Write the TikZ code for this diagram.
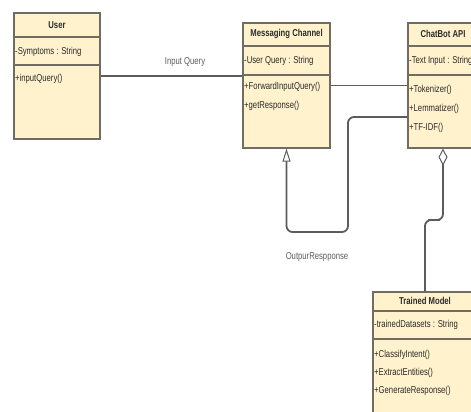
\documentclass[tikz,border=0pt]{standalone}
\usepackage{fontspec}
\setmainfont{Liberation Sans}[FakeStretch=0.77]
\usetikzlibrary{arrows.meta,shadows}
\definecolor{classfill}{HTML}{FFF2CC}
\definecolor{classline}{HTML}{6F6D62}
\definecolor{connline}{HTML}{5C5C5C}
\definecolor{txtcol}{HTML}{2B2B2B}

\begin{document}
\begin{tikzpicture}[x=1pt,y=-1pt,
	classbox/.style={draw=classline, line width=1.2pt, fill=classfill, rectangle, inner sep=0pt,
		drop shadow={shadow xshift=0.8pt, shadow yshift=-1.3pt, fill=black!50, opacity=0.6}},
	sepline/.style={draw=classline, line width=1.2pt},
	headtxt/.style={font=\fontsize{10}{11}\selectfont\bfseries, text=txtcol, inner sep=0.5pt},
	membtxt/.style={font=\fontsize{10}{11}\selectfont, text=txtcol, anchor=west, inner sep=0.5pt},
	conn/.style={draw=connline, line width=1.8pt},
	conntxt/.style={font=\fontsize{10}{11}\selectfont, text=connline, inner sep=0.5pt}]
		\useasboundingbox (0,0) rectangle (471,412);
		\clip (0,0) rectangle (471,412);
		% class boxes
		\node[classbox, minimum width=86pt, minimum height=126pt] (user) at (57,76) {};
		\node[classbox, minimum width=87pt, minimum height=125pt] (msg) at (286.5,85.5) {};
		\node[classbox, minimum width=70pt, minimum height=125pt] (chatbot) at (443,85.5) {};
		\node[classbox, minimum width=104pt, minimum height=140pt] (model) at (425,362) {};
		% compartments
		\draw[sepline] (14,37) -- (100,37);
		\draw[sepline] (14,65) -- (100,65);
		\draw[sepline] (243,46) -- (330,46);
		\draw[sepline] (243,75) -- (330,75);
		\draw[sepline] (408,46) -- (478,46);
		\draw[sepline] (408,75) -- (478,75);
		\draw[sepline] (373,311) -- (477,311);
		\draw[sepline] (373,339) -- (477,339);
		% User
		\node[headtxt] (userh) at (57,25) {User};
		\node[membtxt] (usera) at (14.5,52) {-Symptoms : String};
		\node[membtxt] (usero) at (14.5,79) {+inputQuery()};
		% Messaging Channel
		\node[headtxt] (msgh) at (286.5,34) {Messaging Channel};
		\node[membtxt] (msga) at (243.5,61) {-User Query : String};
		\node[membtxt] (msgo1) at (243.5,87) {+ForwardInputQuery()};
		\node[membtxt] (msgo2) at (243.5,106) {+getResponse()};
		% ChatBot API
		\node[headtxt] (chath) at (443,34) {ChatBot API};
		\node[membtxt] (chata) at (408.5,61) {-Text Input : String};
		\node[membtxt] (chato1) at (408.5,90) {+Tokenizer()};
		\node[membtxt] (chato2) at (408.5,109) {+Lemmatizer()};
		\node[membtxt] (chato3) at (408.5,128) {+TF-IDF()};
		% Trained Model
		\node[headtxt] (modh) at (425,301) {Trained Model};
		\node[membtxt] (moda) at (373.5,325) {-trainedDatasets : String};
		\node[membtxt] (modo1) at (373.5,355) {+ClassifyIntent()};
		\node[membtxt] (modo2) at (373.5,373) {+ExtractEntities()};
		\node[membtxt] (modo3) at (373.5,391) {+GenerateResponse()};
		% connectors
		\draw[conn] (user.east) -- (user.east -| msg.west);
		\node[conntxt] (inq) at (185,62) {Input Query};
		\draw[conn] (msg.east) -- (msg.east -| chatbot.west);
		\draw[conn, rounded corners=6pt, -{Triangle[open, length=13pt, width=8pt, line width=1pt]}]
			([yshift=-31.5pt]chatbot.west) -| (348,232) -| (msg.south);
		\node[conntxt] (outr) at (317,257) {OutpurRespponse};
		\draw[conn, rounded corners=6pt, -{Diamond[open, length=17pt, width=9pt, line width=1pt]}]
			(model.north) |- (434,220) -| (chatbot.south);
\end{tikzpicture}
\end{document}
